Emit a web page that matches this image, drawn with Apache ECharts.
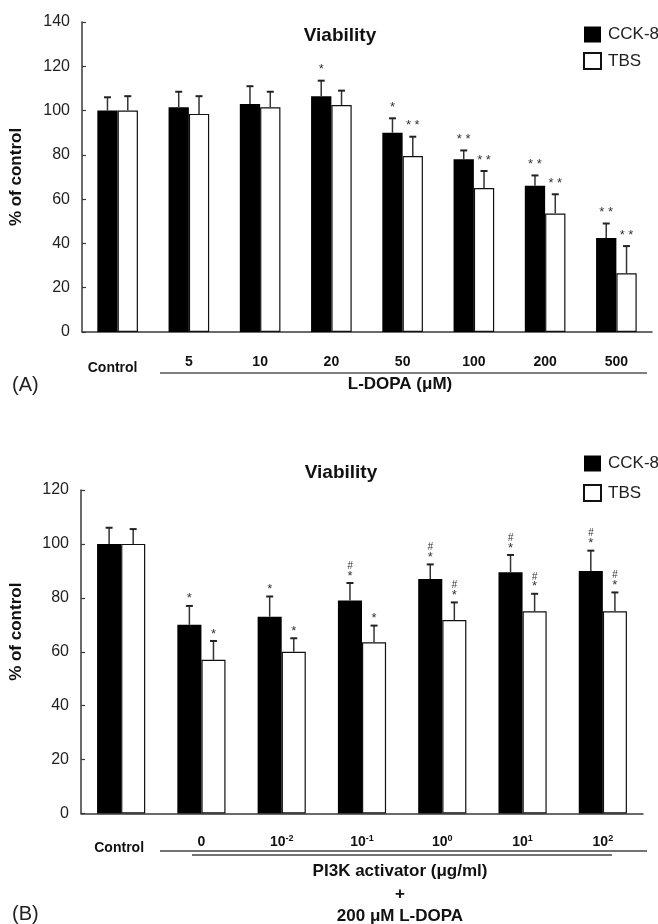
<!DOCTYPE html>
<html>
<head>
<meta charset="utf-8">
<script src="https://cdn.jsdelivr.net/npm/echarts@6/dist/echarts.min.js"></script>
<style>
html,body{margin:0;padding:0;background:#fff;}
#c{width:658px;height:924px;}
</style>
</head>
<body>
<div id="c"></div>
<script>
// ---------- Data: panel A ----------
const catsA = ['Control', '5', '10', '20', '50', '100', '200', '500'];
const cckA = [100, 101.5, 103, 106.5, 90, 78, 66, 42.5];
const cckErrA = [6, 7, 8, 7, 6.5, 4, 4.7, 6.5];
const tbsA = [100, 98.5, 101.5, 102.5, 79.5, 65, 53.5, 26.5];
const tbsErrA = [6.5, 8, 7, 6.5, 8.7, 7.7, 8.7, 12.3];
const cckSigA = ['', '', '', '*', '*', '**', '**', '**'];
const tbsSigA = ['', '', '', '', '**', '**', '**', '**'];
const yTicksA = [0, 140, 20];

// ---------- Data: panel B ----------
const catsB = ['Control', '0', '10^-2', '10^-1', '10^0', '10^1', '10^2'];
const cckB = [100, 70, 73, 79, 87, 89.5, 90];
const cckErrB = [6, 7, 7.5, 6.5, 5.4, 6.4, 7.5];
const tbsB = [100, 57, 60, 63.5, 71.8, 75, 75];
const tbsErrB = [5.5, 7, 5, 6.2, 6.5, 6.5, 7];
const cckStarB = ['', '*', '*', '*', '*', '*', '*'];
const cckHashB = ['', '', '', '#', '#', '#', '#'];
const tbsStarB = ['', '*', '*', '*', '*', '*', '*'];
const tbsHashB = ['', '', '', '', '#', '#', '#'];
const yTicksB = [0, 120, 20];

const FONT = '"Liberation Sans", Arial, Helvetica, sans-serif';
const AX = '#3a3a3a';

function fmtStar(s) { return s.split('').join(' '); }

function errSeries(name, xi, vals, errs, offFrac, stars, hashes, starGap) {
  const data = vals.map((v, i) => [i, v, errs[i]]);
  return {
    type: 'custom', name: name + ' err', xAxisIndex: xi, yAxisIndex: xi, z: 10,
    silent: true, legendHoverLink: false,
    data: data,
    renderItem: function (params, api) {
      const i = params.dataIndex;
      const x = api.value(0), v = api.value(1), e = api.value(2);
      const base = api.coord([x, v]);
      const top = api.coord([x, v + e]);
      const band = api.size([1, 0])[0];
      const cx = base[0] + offFrac * band;
      const children = [
        { type: 'line', shape: { x1: cx, y1: base[1], x2: cx, y2: top[1] }, style: { stroke: '#333', lineWidth: 1.5 } },
        { type: 'line', shape: { x1: cx - 3.5, y1: top[1], x2: cx + 3.5, y2: top[1] }, style: { stroke: '#222', lineWidth: 2 } }
      ];
      const s = stars[i];
      if (s) {
        children.push({ type: 'text', style: { text: fmtStar(s), x: cx, y: top[1] - starGap, align: 'center', verticalAlign: 'middle', font: '13px ' + FONT, fill: '#333' } });
      }
      const h = hashes ? hashes[i] : '';
      if (h) {
        children.push({ type: 'text', style: { text: h, x: cx, y: top[1] - starGap - 10, align: 'center', verticalAlign: 'middle', font: 'italic 10px ' + FONT, fill: '#333' } });
      }
      return { type: 'group', children: children };
    }
  };
}

function fmtB(v) {
  if (v === 'Control') return '{c|Control}';
  const p = v.split('^');
  if (p.length === 1) return '{n|' + v + '}';
  return '{n|' + p[0] + '}{s|' + p[1] + '}';
}

const chart = echarts.init(document.getElementById('c'));
const option = {
  animation: false,
  backgroundColor: '#fff',
  textStyle: { fontFamily: FONT },
  title: [
    { text: 'Viability', left: 335, top: 21, textAlign: 'center', textStyle: { fontSize: 19, fontWeight: 'bold', color: '#111', fontFamily: FONT } },
    { text: 'Viability', left: 336, top: 458, textAlign: 'center', textStyle: { fontSize: 19, fontWeight: 'bold', color: '#111', fontFamily: FONT } }
  ],
  legend: [
    { data: ['CCK-8', 'TBS'], orient: 'vertical', left: 578, top: 21, itemWidth: 17, itemHeight: 16, itemGap: 9, icon: 'rect',
      textStyle: { fontSize: 17, color: '#222', fontFamily: FONT, padding: [0, 0, 0, 2] }, selectedMode: false },
    { data: ['CCK-8', 'TBS'], orient: 'vertical', left: 578, top: 450, itemWidth: 17, itemHeight: 16, itemGap: 12, icon: 'rect',
      textStyle: { fontSize: 17, color: '#222', fontFamily: FONT, padding: [0, 0, 0, 2] }, selectedMode: false }
  ],
  grid: [
    { left: 80, top: 22, width: 572, height: 310 },
    { left: 79, top: 490, width: 564, height: 323.5 }
  ],
  xAxis: [
    { type: 'category', gridIndex: 0, data: catsA,
      axisLine: { lineStyle: { color: AX, width: 1.5 } },
      axisTick: { inside: true, length: 4, lineStyle: { color: AX, width: 1.2 } },
      axisLabel: { interval: 0, margin: 22, color: '#111',
        formatter: function (v) { return v === 'Control' ? '{c|Control}' : '{n|' + v + '}'; },
        rich: {
          n: { fontSize: 14, fontWeight: 'bold', color: '#111', fontFamily: FONT, lineHeight: 16 },
          c: { fontSize: 14, fontWeight: 'bold', color: '#111', fontFamily: FONT, lineHeight: 16, padding: [13, 10, 0, 0] }
        } } },
    { type: 'category', gridIndex: 1, data: catsB,
      axisLine: { lineStyle: { color: AX, width: 1.5 } },
      axisTick: { inside: true, length: 4, lineStyle: { color: AX, width: 1.2 } },
      axisLabel: { interval: 0, margin: 21, color: '#111', formatter: fmtB,
        rich: {
          n: { fontSize: 14, fontWeight: 'bold', color: '#111', fontFamily: FONT, lineHeight: 16 },
          s: { fontSize: 9, fontWeight: 'bold', color: '#111', fontFamily: FONT, lineHeight: 10, verticalAlign: 'top' },
          c: { fontSize: 14, fontWeight: 'bold', color: '#111', fontFamily: FONT, lineHeight: 16, padding: [12, 4, 0, 0] }
        } } }
  ],
  yAxis: [
    { type: 'value', gridIndex: 0, min: yTicksA[0], max: yTicksA[1], interval: yTicksA[2],
      name: '% of control', nameLocation: 'middle', nameGap: 57,
      nameTextStyle: { fontSize: 17, fontWeight: 'bold', color: '#111', fontFamily: FONT },
      axisLine: { show: true, lineStyle: { color: AX, width: 1.5 } },
      axisTick: { show: true, inside: true, length: 4, lineStyle: { color: AX, width: 1.2 } },
      axisLabel: { margin: 12, fontSize: 16, color: '#222', fontFamily: FONT },
      splitLine: { show: false } },
    { type: 'value', gridIndex: 1, min: yTicksB[0], max: yTicksB[1], interval: yTicksB[2],
      name: '% of control', nameLocation: 'middle', nameGap: 56,
      nameTextStyle: { fontSize: 17, fontWeight: 'bold', color: '#111', fontFamily: FONT, padding: [0, 0, 0, 40] },
      axisLine: { show: true, lineStyle: { color: AX, width: 1.5 } },
      axisTick: { show: true, inside: true, length: 4, lineStyle: { color: AX, width: 1.2 } },
      axisLabel: { margin: 12, fontSize: 16, color: '#222', fontFamily: FONT },
      splitLine: { show: false } }
  ],
  series: [
    { name: 'CCK-8', type: 'bar', xAxisIndex: 0, yAxisIndex: 0, data: cckA, barGap: '0%', barCategoryGap: '43%',
      itemStyle: { color: '#000', borderColor: '#000', borderWidth: 0 } },
    { name: 'TBS', type: 'bar', xAxisIndex: 0, yAxisIndex: 0, data: tbsA, barGap: '0%', barCategoryGap: '43%',
      itemStyle: { color: '#fff', borderColor: '#111', borderWidth: 1.2 } },
    { name: 'CCK-8', type: 'bar', xAxisIndex: 1, yAxisIndex: 1, data: cckB, barGap: '0%', barCategoryGap: '40%',
      itemStyle: { color: '#000', borderColor: '#000', borderWidth: 0 } },
    { name: 'TBS', type: 'bar', xAxisIndex: 1, yAxisIndex: 1, data: tbsB, barGap: '0%', barCategoryGap: '40%',
      itemStyle: { color: '#fff', borderColor: '#111', borderWidth: 1.2 } },
    errSeries('CCK-8 A', 0, cckA, cckErrA, -0.1425, cckSigA, null, 11),
    errSeries('TBS A', 0, tbsA, tbsErrA, 0.1425, tbsSigA, null, 11),
    errSeries('CCK-8 B', 1, cckB, cckErrB, -0.15, cckStarB, cckHashB, 7),
    errSeries('TBS B', 1, tbsB, tbsErrB, 0.15, tbsStarB, tbsHashB, 7)
  ],
  graphic: [
    // Panel A group annotation
    { type: 'line', shape: { x1: 160, y1: 373, x2: 647, y2: 373 }, style: { stroke: '#555', lineWidth: 1.5 } },
    { type: 'text', style: { text: 'L-DOPA (μM)', x: 400, y: 384, align: 'center', verticalAlign: 'middle', font: 'bold 17px ' + FONT, fill: '#111' } },
    { type: 'text', style: { text: '(A)', x: 12, y: 385, align: 'left', verticalAlign: 'middle', font: '20px ' + FONT, fill: '#222' } },
    // Panel B group annotation
    { type: 'line', shape: { x1: 160, y1: 851, x2: 647, y2: 851 }, style: { stroke: '#444', lineWidth: 1.5 } },
    { type: 'line', shape: { x1: 192, y1: 855, x2: 612, y2: 855 }, style: { stroke: '#444', lineWidth: 1.5 } },
    { type: 'text', style: { text: 'PI3K activator (μg/ml)', x: 400, y: 871, align: 'center', verticalAlign: 'middle', font: 'bold 17px ' + FONT, fill: '#111' } },
    { type: 'text', style: { text: '+', x: 400, y: 894, align: 'center', verticalAlign: 'middle', font: 'bold 17px ' + FONT, fill: '#111' } },
    { type: 'text', style: { text: '200 μM L-DOPA', x: 400, y: 916, align: 'center', verticalAlign: 'middle', font: 'bold 17px ' + FONT, fill: '#111' } },
    { type: 'text', style: { text: '(B)', x: 12, y: 914, align: 'left', verticalAlign: 'middle', font: '20px ' + FONT, fill: '#222' } }
  ]
};
chart.setOption(option);
</script>
</body>
</html>
